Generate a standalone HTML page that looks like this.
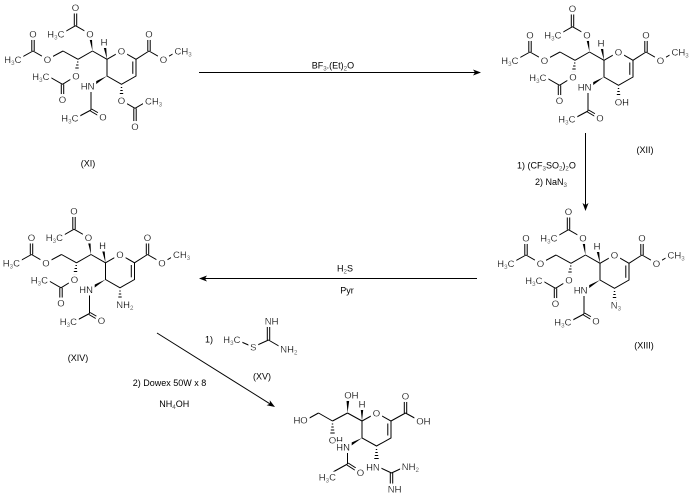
<!DOCTYPE html>
<html><head><meta charset="utf-8"><style>
html,body{margin:0;padding:0;background:#fff;}
svg{display:block;}
.b line,.b polyline{stroke:#000;stroke-width:1;fill:none;}
.b polygon{fill:#000;stroke:none;}
text{font-family:"Liberation Sans",Arial,sans-serif;font-size:9.5px;fill:#000;filter:url(#h);}
.c{font-size:9px;filter:none;}
.s{font-size:6.2px;fill:#555;}
</style></head><body>
<svg width="693" height="502" viewBox="0 0 693 502" xmlns="http://www.w3.org/2000/svg">
<defs>
<filter id="h" x="-50%" y="-50%" width="200%" height="200%">
<feMorphology in="SourceAlpha" operator="dilate" radius="2.4" result="d"/>
<feFlood flood-color="#ffffff" result="f"/>
<feComposite in="f" in2="d" operator="in" result="w"/>
<feMerge><feMergeNode in="w"/><feMergeNode in="SourceGraphic"/></feMerge>
</filter>
</defs>
<rect width="693" height="502" fill="#fff"/>

<!-- ===== XI ===== -->
<g transform="translate(0,0)">
<g class="b">
<line x1="74.3" y1="25.7" x2="74.3" y2="9"/><line x1="76.7" y1="25.7" x2="76.7" y2="9"/>
<line x1="75.5" y1="25.7" x2="61" y2="34"/><line x1="75.5" y1="25.7" x2="90" y2="34"/>
<polygon points="92.5,51 91.8,34.3 88.2,33.7"/>
<line x1="92.5" y1="51" x2="107" y2="59.3"/>
<polygon points="107,59.3 105.8,41.7 102.2,42.3"/>
<polyline points="107,59.3 121.5,51 136,59.3 136,76 121.5,84.3 107,76 107,59.3"/>
<line x1="132.8" y1="61.5" x2="132.8" y2="73.8"/>
<line x1="136" y1="59.3" x2="149" y2="51"/>
<line x1="147.8" y1="51" x2="147.8" y2="34"/><line x1="150.2" y1="51" x2="150.2" y2="34"/>
<line x1="149" y1="51" x2="163.5" y2="59.3"/><line x1="163.5" y1="59.3" x2="178" y2="51"/>
<line x1="92.5" y1="51" x2="78" y2="59.3"/>
<line x1="77" y1="62" x2="78.4" y2="62"/><line x1="76.1" y1="65" x2="78.5" y2="65"/><line x1="75.3" y1="68" x2="78.7" y2="68"/><line x1="74.4" y1="71" x2="78.8" y2="71"/>
<line x1="78" y1="59.3" x2="63" y2="51"/><line x1="63" y1="51" x2="47.5" y2="59.3"/><line x1="47.5" y1="59.3" x2="33" y2="51"/>
<line x1="31.8" y1="51" x2="31.8" y2="34"/><line x1="34.2" y1="51" x2="34.2" y2="34"/>
<line x1="33" y1="51" x2="18" y2="59.3"/>
<line x1="76" y1="76" x2="62.5" y2="84.3"/>
<line x1="61.3" y1="84.3" x2="61.3" y2="100"/><line x1="63.7" y1="84.3" x2="63.7" y2="100"/>
<line x1="62.5" y1="84.3" x2="48" y2="76"/>
<polygon points="107,76 92.9,86.5 91.1,83.5"/>
<line x1="91" y1="86" x2="91" y2="110"/>
<line x1="91" y1="110" x2="76" y2="118"/>
<line x1="90.4" y1="111" x2="102.4" y2="118"/><line x1="91.6" y1="109" x2="103.6" y2="116"/>
<line x1="120.8" y1="87.5" x2="122.2" y2="87.5"/><line x1="120.3" y1="90.5" x2="122.7" y2="90.5"/><line x1="119.8" y1="93.5" x2="123.2" y2="93.5"/><line x1="119.3" y1="96.5" x2="123.7" y2="96.5"/>
<line x1="121.5" y1="100.5" x2="135" y2="108.3"/><line x1="135" y1="108.3" x2="148.5" y2="100.5"/>
<line x1="133.8" y1="108.3" x2="133.8" y2="125"/><line x1="136.2" y1="108.3" x2="136.2" y2="125"/>
</g>
<text x="75.5" y="11" text-anchor="middle">O</text>
<text x="64.5" y="37.5" text-anchor="end">H<tspan class="s" dy="2">3</tspan><tspan dy="-2">C</tspan></text>
<text x="90" y="37.5" text-anchor="middle">O</text>
<text x="33" y="37.5" text-anchor="middle">O</text>
<text x="21.5" y="62.8" text-anchor="end">H<tspan class="s" dy="2">3</tspan><tspan dy="-2">C</tspan></text>
<text x="47.5" y="62.8" text-anchor="middle">O</text>
<text x="104" y="45.5" text-anchor="middle">H</text>
<text x="121.5" y="54.5" text-anchor="middle">O</text>
<text x="149" y="37.5" text-anchor="middle">O</text>
<text x="163.5" y="62.8" text-anchor="middle">O</text>
<text x="174.5" y="54.5">CH<tspan class="s" dy="2">3</tspan></text>
<text x="49.5" y="79.8" text-anchor="end">H<tspan class="s" dy="2">3</tspan><tspan dy="-2">C</tspan></text>
<text x="76" y="79.5" text-anchor="middle">O</text>
<text x="94.5" y="89.5" text-anchor="end">HN</text>
<text x="62.5" y="103" text-anchor="middle">O</text>
<text x="78.5" y="121.5" text-anchor="end">H<tspan class="s" dy="2">3</tspan><tspan dy="-2">C</tspan></text>
<text x="103" y="120.5" text-anchor="middle">O</text>
<text x="121.5" y="104" text-anchor="middle">O</text>
<text x="145" y="104.3">CH<tspan class="s" dy="2">3</tspan></text>
<text x="135" y="130" text-anchor="middle">O</text>
</g>

<!-- ===== XII ===== -->
<g transform="translate(497,1)">
<g class="b">
<line x1="74.3" y1="25.7" x2="74.3" y2="9"/><line x1="76.7" y1="25.7" x2="76.7" y2="9"/>
<line x1="75.5" y1="25.7" x2="61" y2="34"/><line x1="75.5" y1="25.7" x2="90" y2="34"/>
<polygon points="92.5,51 91.8,34.3 88.2,33.7"/>
<line x1="92.5" y1="51" x2="107" y2="59.3"/>
<polygon points="107,59.3 105.8,41.7 102.2,42.3"/>
<polyline points="107,59.3 121.5,51 136,59.3 136,76 121.5,84.3 107,76 107,59.3"/>
<line x1="132.8" y1="61.5" x2="132.8" y2="73.8"/>
<line x1="136" y1="59.3" x2="149" y2="51"/>
<line x1="147.8" y1="51" x2="147.8" y2="34"/><line x1="150.2" y1="51" x2="150.2" y2="34"/>
<line x1="149" y1="51" x2="163.5" y2="59.3"/><line x1="163.5" y1="59.3" x2="178" y2="51"/>
<line x1="92.5" y1="51" x2="78" y2="59.3"/>
<line x1="77" y1="62" x2="78.4" y2="62"/><line x1="76.1" y1="65" x2="78.5" y2="65"/><line x1="75.3" y1="68" x2="78.7" y2="68"/><line x1="74.4" y1="71" x2="78.8" y2="71"/>
<line x1="78" y1="59.3" x2="63" y2="51"/><line x1="63" y1="51" x2="47.5" y2="59.3"/><line x1="47.5" y1="59.3" x2="33" y2="51"/>
<line x1="31.8" y1="51" x2="31.8" y2="34"/><line x1="34.2" y1="51" x2="34.2" y2="34"/>
<line x1="33" y1="51" x2="18" y2="59.3"/>
<line x1="76" y1="76" x2="62.5" y2="84.3"/>
<line x1="61.3" y1="84.3" x2="61.3" y2="100"/><line x1="63.7" y1="84.3" x2="63.7" y2="100"/>
<line x1="62.5" y1="84.3" x2="48" y2="76"/>
<polygon points="107,76 92.9,86.5 91.1,83.5"/>
<line x1="91" y1="86" x2="91" y2="110"/>
<line x1="91" y1="110" x2="76" y2="118"/>
<line x1="90.4" y1="111" x2="102.4" y2="118"/><line x1="91.6" y1="109" x2="103.6" y2="116"/>
<line x1="120.8" y1="87.5" x2="122.2" y2="87.5"/><line x1="120.3" y1="90.5" x2="122.7" y2="90.5"/><line x1="119.8" y1="93.5" x2="123.2" y2="93.5"/><line x1="119.3" y1="96.5" x2="123.7" y2="96.5"/>
</g>
<text x="75.5" y="11" text-anchor="middle">O</text>
<text x="64.5" y="37.5" text-anchor="end">H<tspan class="s" dy="2">3</tspan><tspan dy="-2">C</tspan></text>
<text x="90" y="37.5" text-anchor="middle">O</text>
<text x="33" y="37.5" text-anchor="middle">O</text>
<text x="21.5" y="62.8" text-anchor="end">H<tspan class="s" dy="2">3</tspan><tspan dy="-2">C</tspan></text>
<text x="47.5" y="62.8" text-anchor="middle">O</text>
<text x="104" y="45.5" text-anchor="middle">H</text>
<text x="121.5" y="54.5" text-anchor="middle">O</text>
<text x="149" y="37.5" text-anchor="middle">O</text>
<text x="163.5" y="62.8" text-anchor="middle">O</text>
<text x="174.5" y="54.5">CH<tspan class="s" dy="2">3</tspan></text>
<text x="49.5" y="79.8" text-anchor="end">H<tspan class="s" dy="2">3</tspan><tspan dy="-2">C</tspan></text>
<text x="76" y="79.5" text-anchor="middle">O</text>
<text x="94.5" y="89.5" text-anchor="end">HN</text>
<text x="62.5" y="103" text-anchor="middle">O</text>
<text x="78.5" y="121.5" text-anchor="end">H<tspan class="s" dy="2">3</tspan><tspan dy="-2">C</tspan></text>
<text x="103" y="120.5" text-anchor="middle">O</text>
<text x="117.8" y="104.5">OH</text>
</g>

<!-- ===== XIII ===== -->
<g transform="translate(493,204)">
<g class="b">
<line x1="74.3" y1="25.7" x2="74.3" y2="9"/><line x1="76.7" y1="25.7" x2="76.7" y2="9"/>
<line x1="75.5" y1="25.7" x2="61" y2="34"/><line x1="75.5" y1="25.7" x2="90" y2="34"/>
<polygon points="92.5,51 91.8,34.3 88.2,33.7"/>
<line x1="92.5" y1="51" x2="107" y2="59.3"/>
<polygon points="107,59.3 105.8,41.7 102.2,42.3"/>
<polyline points="107,59.3 121.5,51 136,59.3 136,76 121.5,84.3 107,76 107,59.3"/>
<line x1="132.8" y1="61.5" x2="132.8" y2="73.8"/>
<line x1="136" y1="59.3" x2="149" y2="51"/>
<line x1="147.8" y1="51" x2="147.8" y2="34"/><line x1="150.2" y1="51" x2="150.2" y2="34"/>
<line x1="149" y1="51" x2="163.5" y2="59.3"/><line x1="163.5" y1="59.3" x2="178" y2="51"/>
<line x1="92.5" y1="51" x2="78" y2="59.3"/>
<line x1="77" y1="62" x2="78.4" y2="62"/><line x1="76.1" y1="65" x2="78.5" y2="65"/><line x1="75.3" y1="68" x2="78.7" y2="68"/><line x1="74.4" y1="71" x2="78.8" y2="71"/>
<line x1="78" y1="59.3" x2="63" y2="51"/><line x1="63" y1="51" x2="47.5" y2="59.3"/><line x1="47.5" y1="59.3" x2="33" y2="51"/>
<line x1="31.8" y1="51" x2="31.8" y2="34"/><line x1="34.2" y1="51" x2="34.2" y2="34"/>
<line x1="33" y1="51" x2="18" y2="59.3"/>
<line x1="76" y1="76" x2="62.5" y2="84.3"/>
<line x1="61.3" y1="84.3" x2="61.3" y2="100"/><line x1="63.7" y1="84.3" x2="63.7" y2="100"/>
<line x1="62.5" y1="84.3" x2="48" y2="76"/>
<polygon points="107,76 92.9,86.5 91.1,83.5"/>
<line x1="91" y1="86" x2="91" y2="110"/>
<line x1="91" y1="110" x2="76" y2="118"/>
<line x1="90.4" y1="111" x2="102.4" y2="118"/><line x1="91.6" y1="109" x2="103.6" y2="116"/>
<line x1="120.8" y1="87.5" x2="122.2" y2="87.5"/><line x1="120.3" y1="90.5" x2="122.7" y2="90.5"/><line x1="119.8" y1="93.5" x2="123.2" y2="93.5"/><line x1="119.3" y1="96.5" x2="123.7" y2="96.5"/>
</g>
<text x="75.5" y="11" text-anchor="middle">O</text>
<text x="64.5" y="37.5" text-anchor="end">H<tspan class="s" dy="2">3</tspan><tspan dy="-2">C</tspan></text>
<text x="90" y="37.5" text-anchor="middle">O</text>
<text x="33" y="37.5" text-anchor="middle">O</text>
<text x="21.5" y="62.8" text-anchor="end">H<tspan class="s" dy="2">3</tspan><tspan dy="-2">C</tspan></text>
<text x="47.5" y="62.8" text-anchor="middle">O</text>
<text x="104" y="45.5" text-anchor="middle">H</text>
<text x="121.5" y="54.5" text-anchor="middle">O</text>
<text x="149" y="37.5" text-anchor="middle">O</text>
<text x="163.5" y="62.8" text-anchor="middle">O</text>
<text x="174.5" y="54.5">CH<tspan class="s" dy="2">3</tspan></text>
<text x="49.5" y="79.8" text-anchor="end">H<tspan class="s" dy="2">3</tspan><tspan dy="-2">C</tspan></text>
<text x="76" y="79.5" text-anchor="middle">O</text>
<text x="94.5" y="89.5" text-anchor="end">HN</text>
<text x="62.5" y="103" text-anchor="middle">O</text>
<text x="78.5" y="121.5" text-anchor="end">H<tspan class="s" dy="2">3</tspan><tspan dy="-2">C</tspan></text>
<text x="103" y="120.5" text-anchor="middle">O</text>
<text x="117.8" y="104.5">N<tspan class="s" dy="2">3</tspan></text>
</g>

<!-- ===== XIV ===== -->
<g transform="translate(-1.5,203.5)">
<g class="b">
<line x1="74.3" y1="25.7" x2="74.3" y2="9"/><line x1="76.7" y1="25.7" x2="76.7" y2="9"/>
<line x1="75.5" y1="25.7" x2="61" y2="34"/><line x1="75.5" y1="25.7" x2="90" y2="34"/>
<polygon points="92.5,51 91.8,34.3 88.2,33.7"/>
<line x1="92.5" y1="51" x2="107" y2="59.3"/>
<polygon points="107,59.3 105.8,41.7 102.2,42.3"/>
<polyline points="107,59.3 121.5,51 136,59.3 136,76 121.5,84.3 107,76 107,59.3"/>
<line x1="132.8" y1="61.5" x2="132.8" y2="73.8"/>
<line x1="136" y1="59.3" x2="149" y2="51"/>
<line x1="147.8" y1="51" x2="147.8" y2="34"/><line x1="150.2" y1="51" x2="150.2" y2="34"/>
<line x1="149" y1="51" x2="163.5" y2="59.3"/><line x1="163.5" y1="59.3" x2="178" y2="51"/>
<line x1="92.5" y1="51" x2="78" y2="59.3"/>
<line x1="77" y1="62" x2="78.4" y2="62"/><line x1="76.1" y1="65" x2="78.5" y2="65"/><line x1="75.3" y1="68" x2="78.7" y2="68"/><line x1="74.4" y1="71" x2="78.8" y2="71"/>
<line x1="78" y1="59.3" x2="63" y2="51"/><line x1="63" y1="51" x2="47.5" y2="59.3"/><line x1="47.5" y1="59.3" x2="33" y2="51"/>
<line x1="31.8" y1="51" x2="31.8" y2="34"/><line x1="34.2" y1="51" x2="34.2" y2="34"/>
<line x1="33" y1="51" x2="18" y2="59.3"/>
<line x1="76" y1="76" x2="62.5" y2="84.3"/>
<line x1="61.3" y1="84.3" x2="61.3" y2="100"/><line x1="63.7" y1="84.3" x2="63.7" y2="100"/>
<line x1="62.5" y1="84.3" x2="48" y2="76"/>
<polygon points="107,76 92.9,86.5 91.1,83.5"/>
<line x1="91" y1="86" x2="91" y2="110"/>
<line x1="91" y1="110" x2="76" y2="118"/>
<line x1="90.4" y1="111" x2="102.4" y2="118"/><line x1="91.6" y1="109" x2="103.6" y2="116"/>
<line x1="120.8" y1="87.5" x2="122.2" y2="87.5"/><line x1="120.3" y1="90.5" x2="122.7" y2="90.5"/><line x1="119.8" y1="93.5" x2="123.2" y2="93.5"/><line x1="119.3" y1="96.5" x2="123.7" y2="96.5"/>
</g>
<text x="75.5" y="11" text-anchor="middle">O</text>
<text x="64.5" y="37.5" text-anchor="end">H<tspan class="s" dy="2">3</tspan><tspan dy="-2">C</tspan></text>
<text x="90" y="37.5" text-anchor="middle">O</text>
<text x="33" y="37.5" text-anchor="middle">O</text>
<text x="21.5" y="62.8" text-anchor="end">H<tspan class="s" dy="2">3</tspan><tspan dy="-2">C</tspan></text>
<text x="47.5" y="62.8" text-anchor="middle">O</text>
<text x="104" y="45.5" text-anchor="middle">H</text>
<text x="121.5" y="54.5" text-anchor="middle">O</text>
<text x="149" y="37.5" text-anchor="middle">O</text>
<text x="163.5" y="62.8" text-anchor="middle">O</text>
<text x="174.5" y="54.5">CH<tspan class="s" dy="2">3</tspan></text>
<text x="49.5" y="79.8" text-anchor="end">H<tspan class="s" dy="2">3</tspan><tspan dy="-2">C</tspan></text>
<text x="76" y="79.5" text-anchor="middle">O</text>
<text x="94.5" y="89.5" text-anchor="end">HN</text>
<text x="62.5" y="103" text-anchor="middle">O</text>
<text x="78.5" y="121.5" text-anchor="end">H<tspan class="s" dy="2">3</tspan><tspan dy="-2">C</tspan></text>
<text x="103" y="120.5" text-anchor="middle">O</text>
<text x="117.8" y="104.5">NH<tspan class="s" dy="2">2</tspan></text>
</g>

<!-- ===== Product ===== -->
<g class="b">
<polyline points="362,421 376.5,413 391,421 391,438 376.5,446 362,438 362,421"/>
<line x1="387.8" y1="423.5" x2="387.8" y2="435.5"/>
<line x1="391" y1="421" x2="405.5" y2="413"/>
<line x1="404.3" y1="413" x2="404.3" y2="396"/><line x1="406.7" y1="413" x2="406.7" y2="396"/>
<line x1="405.5" y1="413" x2="420" y2="421"/>
<polygon points="362,421 363.8,404.5 360.2,404.5"/>
<line x1="362" y1="421" x2="347.5" y2="413"/>
<polygon points="347.5,413 349.8,396.5 346.2,396.5"/>
<line x1="347.5" y1="413" x2="332.5" y2="421"/>
<line x1="331.8" y1="424" x2="333.2" y2="424"/><line x1="331.3" y1="427" x2="333.7" y2="427"/><line x1="330.8" y1="430" x2="334.2" y2="430"/><line x1="330.3" y1="433" x2="334.7" y2="433"/>
<line x1="332.5" y1="421" x2="318.5" y2="413"/>
<line x1="318.5" y1="413" x2="304" y2="421"/>
<polygon points="362,438 348.4,447.8 346.6,444.6"/>
<line x1="347.5" y1="448" x2="347.5" y2="464"/>
<line x1="347.5" y1="464" x2="333" y2="472"/>
<line x1="346.9" y1="465" x2="359.4" y2="473"/><line x1="348.1" y1="463" x2="360.6" y2="471"/>
<line x1="375.8" y1="449.5" x2="377.2" y2="449.5"/><line x1="375.3" y1="452.5" x2="377.7" y2="452.5"/><line x1="374.8" y1="455.5" x2="378.2" y2="455.5"/><line x1="374.3" y1="458.5" x2="378.7" y2="458.5"/>
<line x1="376.5" y1="466" x2="391.5" y2="473"/>
<line x1="391.5" y1="473" x2="405.5" y2="466.5"/>
<line x1="390.3" y1="473" x2="390.3" y2="488"/><line x1="392.7" y1="473" x2="392.7" y2="488"/>
</g>
<text x="344.3" y="398.5">OH</text>
<text x="362" y="407.5" text-anchor="middle">H</text>
<text x="376.5" y="416.5" text-anchor="middle">O</text>
<text x="405.5" y="399.5" text-anchor="middle">O</text>
<text x="416.3" y="424.5">OH</text>
<text x="307.7" y="423.5" text-anchor="end">HO</text>
<text x="328.8" y="443.5">OH</text>
<text x="350" y="450.5" text-anchor="end">HN</text>
<text x="336" y="480.5" text-anchor="end">H<tspan class="s" dy="2">3</tspan><tspan dy="-2">C</tspan></text>
<text x="360.5" y="476" text-anchor="middle">O</text>
<text x="379.8" y="470.5" text-anchor="end">HN</text>
<text x="401.8" y="470">NH<tspan class="s" dy="2">2</tspan></text>
<text x="387.8" y="492.5">NH</text>

<!-- ===== XV ===== -->
<g class="b">
<line x1="237" y1="340" x2="253" y2="347"/>
<line x1="253" y1="347" x2="268.5" y2="340"/>
<line x1="267.3" y1="340" x2="267.3" y2="321"/><line x1="269.7" y1="340" x2="269.7" y2="321"/>
<line x1="268.5" y1="340" x2="284" y2="349"/>
</g>
<text x="240.5" y="342.8" text-anchor="end">H<tspan class="s" dy="2">3</tspan><tspan dy="-2">C</tspan></text>
<text x="253.3" y="350.5" text-anchor="middle">S</text>
<text x="264.8" y="324.5">NH</text>
<text x="280.3" y="352.5">NH<tspan class="s" dy="2">2</tspan></text>

<!-- ===== Arrows ===== -->
<g class="b">
<line x1="199" y1="72.5" x2="476" y2="72.5"/>
<polygon points="481,72.5 473,69.5 475,72.5 473,75.5"/>
<line x1="585.5" y1="133" x2="585.5" y2="205"/>
<polygon points="585.5,211 582.5,203 585.5,205 588.5,203"/>
<line x1="205" y1="278.5" x2="477" y2="278.5"/>
<polygon points="199,278.5 207,275.5 205,278.5 207,281.5"/>
<line x1="157" y1="333" x2="269.9" y2="403.8"/>
<polygon points="275,407 266.6,405.3 269.9,403.8 269.8,400.2"/>
</g>

<!-- ===== Conditions & labels ===== -->
<text class="c" x="311.7" y="68.5">BF<tspan class="s" dy="2">3</tspan><tspan dy="-2">.(Et)</tspan><tspan class="s" dy="2">2</tspan><tspan dy="-2">O</tspan></text>
<text class="c" x="517" y="168.5">1) (CF<tspan class="s" dy="2">3</tspan><tspan dy="-2">SO</tspan><tspan class="s" dy="2">2</tspan><tspan dy="-2">)</tspan><tspan class="s" dy="2">2</tspan><tspan dy="-2">O</tspan></text>
<text class="c" x="535" y="185">2) NaN<tspan class="s" dy="2">3</tspan></text>
<text class="c" x="345" y="271.5" text-anchor="middle">H<tspan class="s" dy="2">2</tspan><tspan dy="-2">S</tspan></text>
<text class="c" x="347" y="293.5" text-anchor="middle">Pyr</text>
<text class="c" x="88" y="166.5" text-anchor="middle">(XI)</text>
<text class="c" x="645" y="153" text-anchor="middle">(XII)</text>
<text class="c" x="644" y="348.5" text-anchor="middle">(XIII)</text>
<text class="c" x="78" y="361" text-anchor="middle">(XIV)</text>
<text class="c" x="205" y="342.7">1)</text>
<text class="c" x="262" y="379.5" text-anchor="middle">(XV)</text>
<text class="c" x="132.7" y="386">2) Dowex 50W x 8</text>
<text class="c" x="159.3" y="406.8">NH<tspan class="s" dy="2">4</tspan><tspan dy="-2">OH</tspan></text>
</svg>
</body></html>
